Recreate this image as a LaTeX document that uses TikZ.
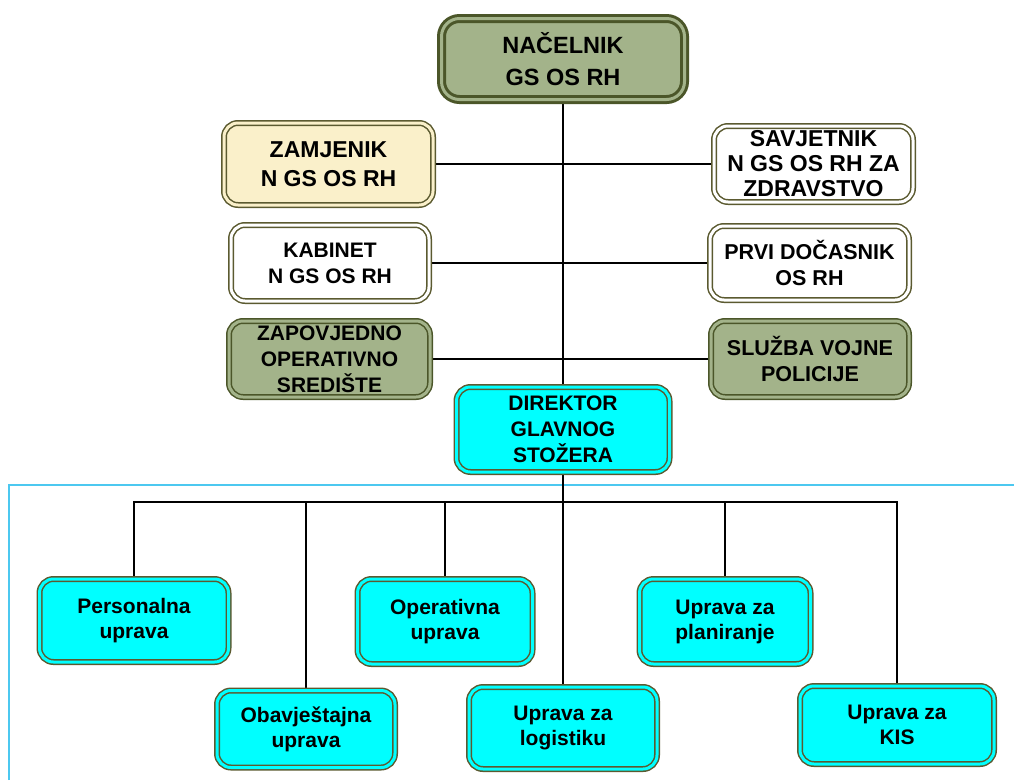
\documentclass[tikz,border=0pt]{standalone}
\usepackage{fontspec}
\setmainfont{Liberation Sans}
\usetikzlibrary{backgrounds}
\definecolor{olivefill}{HTML}{A3B38A}
\definecolor{oliveedge}{HTML}{4B5629}
\definecolor{creamfill}{HTML}{FAF0CA}
\definecolor{boxedge}{HTML}{5B5A30}
\definecolor{cyanfill}{HTML}{00FFFF}
\definecolor{framecol}{HTML}{4CC8F0}
\tikzset{
  bx/.style={rounded corners=14pt, draw=boxedge, line width=1.5pt, double distance=3pt,
    inner sep=0pt, align=center, font=\bfseries\fontsize{21}{26}\selectfont},
  olivebx/.style={bx, draw=oliveedge, fill=olivefill, double=olivefill},
  creambx/.style={bx, fill=creamfill, double=creamfill},
  whitebx/.style={bx, fill=white, double=white},
  cyanbx/.style={bx, fill=cyanfill, double=cyanfill},
  lowbx/.style={cyanbx, font=\bfseries\fontsize{21}{25}\selectfont},
  conn/.style={draw=black, line width=1.5pt},
}
\begin{document}
\begin{tikzpicture}[x=1pt,y=-1pt]
\useasboundingbox (0,0) rectangle (1014,780);

\node[olivebx, line width=3pt, rounded corners=18pt, minimum width=243pt, minimum height=81pt,
  font=\bfseries\fontsize{23.5}{32}\selectfont] (nac) at (563,59) {NAČELNIK\\GS OS RH};

\node[creambx, font=\bfseries\fontsize{23}{29}\selectfont, minimum width=209pt, minimum height=82pt] (zam) at (328.5,164) {ZAMJENIK\\N GS OS RH};
\node[whitebx, font=\bfseries\fontsize{23}{25}\selectfont, minimum width=199pt, minimum height=76pt] (sav) at (813.5,164) {SAVJETNIK\\N GS OS RH ZA\\ZDRAVSTVO};
\node[whitebx, minimum width=198pt, minimum height=76pt] (kab) at (330,263) {KABINET\\N GS OS RH};
\node[whitebx, font=\bfseries\fontsize{21.5}{26}\selectfont, minimum width=199pt, minimum height=74pt] (prvi) at (809.5,263) {PRVI DOČASNIK\\OS RH};
\node[olivebx, minimum width=201pt, minimum height=76pt] (zap) at (329.5,359) {ZAPOVJEDNO\\OPERATIVNO\\SREDIŠTE};
\node[olivebx, font=\bfseries\fontsize{21.5}{26}\selectfont, minimum width=198pt, minimum height=76pt] (slu) at (810,359) {SLUŽBA VOJNE\\POLICIJE};
\node[cyanbx, minimum width=213pt, minimum height=85pt] (dir) at (563,429.5) {DIREKTOR\\GLAVNOG\\STOŽERA};

\node[lowbx, minimum width=189pt, minimum height=83pt] (pers) at (134,620.5) {Personalna\\uprava};
\node[lowbx, minimum width=175pt, minimum height=85pt] (oper) at (445,621.5) {Operativna\\uprava};
\node[lowbx, minimum width=171pt, minimum height=85pt] (plan) at (725,621.5) {Uprava za\\planiranje};
\node[lowbx, minimum width=178pt, minimum height=77pt] (obav) at (306,729) {Obavještajna\\uprava};
\node[lowbx, minimum width=188pt, minimum height=82pt] (log) at (563,728) {Uprava za\\logistiku};
\node[lowbx, minimum width=194pt, minimum height=78pt] (kis) at (897,725) {Uprava za\\KIS};

\coordinate (bus) at (563,502);

\begin{scope}[on background layer]
  \draw[framecol, line width=1.3pt] (9,780) -- (9,485) -- (1014,485);
  \draw[conn] (nac.south) -- (nac.south |- dir.north);
  \draw[conn] (zam.east) -- (sav.west);
  \draw[conn] (kab.east) -- (kab.east -| prvi.west);
  \draw[conn] (zap.east) -- (slu.west);
  \draw[conn] (dir.south) -- (dir.south |- bus);
  \draw[conn] (pers.north) |- (kis.north |- bus) -- (kis.north);
  \draw[conn] (obav.north) -- (obav.north |- bus);
  \draw[conn] (oper.north) -- (oper.north |- bus);
  \draw[conn] (log.north) -- (log.north |- bus);
  \draw[conn] (plan.north) -- (plan.north |- bus);
\end{scope}
\end{tikzpicture}
\end{document}
